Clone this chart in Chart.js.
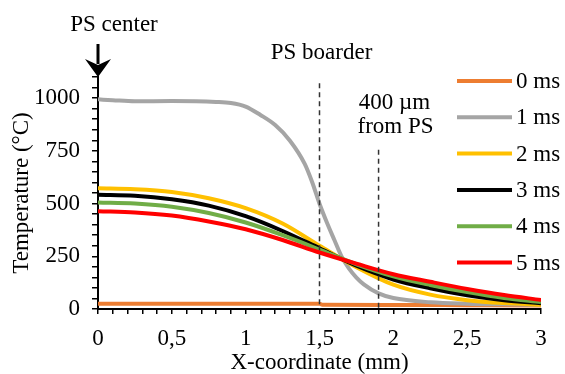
<!DOCTYPE html>
<html>
<head>
<meta charset="utf-8">
<script src="https://cdn.jsdelivr.net/npm/chart.js@4"></script>
<style>
    html, body { margin: 0; padding: 0; background: #fff; }
    #wrap { width: 565px; height: 374px; }
</style>
</head>
<body>
<div id="wrap"><canvas id="tempChart" width="565" height="374"></canvas></div>
<script>
// Temperature profiles along X
const seriesLabels = ['0 ms', '1 ms', '2 ms', '3 ms', '4 ms', '5 ms'];

const smoothX = [0, 0.25, 0.5, 0.75, 1, 1.25, 1.5, 1.75, 2, 2.25, 2.5, 2.75, 3];
const temp2ms = [572, 568, 555, 525, 478, 405, 300, 198, 115, 68, 42, 28, 20];
const temp3ms = [542, 537, 520, 490, 440, 370, 288, 205, 140, 98, 65, 42, 27];
const temp4ms = [505, 500, 485, 455, 410, 350, 282, 212, 155, 114, 80, 52, 33];
const temp5ms = [464, 458, 443, 415, 378, 327, 268, 215, 165, 129, 95, 66, 43];

const grayX = [0, 0.1, 0.25, 0.5, 0.8, 0.9, 1, 1.1, 1.2, 1.3, 1.4, 1.45, 1.5, 1.55, 1.6, 1.65, 1.7, 1.75, 1.8, 1.9, 2, 2.25, 2.5, 2.75, 3];
const temp1ms = [994, 990, 985, 986, 982, 977, 960, 920, 872, 798, 688, 602, 499, 410, 328, 248, 191, 149, 117, 74, 52, 32, 25, 22, 20];

const orangeX = [0, 0.5, 1, 1.5, 1.52, 2, 2.5, 3];
const temp0ms = [25, 25, 25, 25, 20, 19, 18, 17];

const seriesColors = ['#ED7D31', '#A5A5A5', '#FFC000', '#000000', '#70AD47', '#FF0000'];

// Marker positions on the x axis (mm)
const borderX = 1.5;
const offsetX = 1.9;

const FONT = 'Liberation Serif';

function toPoints(xs, ys) {
    return xs.map((x, i) => ({ x: x, y: ys[i] }));
}

const seriesData = [
    toPoints(orangeX, temp0ms),
    toPoints(grayX, temp1ms),
    toPoints(smoothX, temp2ms),
    toPoints(smoothX, temp3ms),
    toPoints(smoothX, temp4ms),
    toPoints(smoothX, temp5ms),
];

// legend + annotations drawn on the canvas
const overlayPlugin = {
    id: 'overlay',
    afterDatasetsDraw(chart) {
        const ctx = chart.ctx;
        const xs = chart.scales.x;
        const ys = chart.scales.y;
        const area = chart.chartArea;

        ctx.save();
        // dashed markers
        ctx.strokeStyle = '#333';
        ctx.lineWidth = 1.5;
        ctx.setLineDash([5, 4]);
        ctx.beginPath();
        ctx.moveTo(xs.getPixelForValue(borderX), ys.getPixelForValue(1070));
        ctx.lineTo(xs.getPixelForValue(borderX), area.bottom);
        ctx.moveTo(xs.getPixelForValue(offsetX), ys.getPixelForValue(755));
        ctx.lineTo(xs.getPixelForValue(offsetX), area.bottom);
        ctx.stroke();
        ctx.setLineDash([]);

        // arrow at the PS center
        const ax = xs.getPixelForValue(0);
        ctx.strokeStyle = '#000';
        ctx.fillStyle = '#000';
        ctx.lineWidth = 3;
        ctx.beginPath();
        ctx.moveTo(ax, 44);
        ctx.lineTo(ax, 64);
        ctx.stroke();
        ctx.beginPath();
        ctx.moveTo(ax - 13, 59);
        ctx.lineTo(ax, area.top);
        ctx.lineTo(ax + 13, 59);
        ctx.lineTo(ax, 65);
        ctx.closePath();
        ctx.fill();

        // labels
        ctx.font = '23px "' + FONT + '"';
        ctx.textAlign = 'center';
        ctx.textBaseline = 'middle';
        ctx.fillText('PS center', ax + 16, 25);
        ctx.fillText('PS boarder', xs.getPixelForValue(borderX) + 2, 53);
        ctx.fillText('400 µm', xs.getPixelForValue(offsetX) + 16, 103);
        ctx.fillText('from PS', xs.getPixelForValue(offsetX) + 17, 127);

        // legend
        ctx.textAlign = 'left';
        chart.data.datasets.forEach((ds, i) => {
            const y = 81 + i * 36.3;
            ctx.strokeStyle = ds.borderColor;
            ctx.lineWidth = 4;
            ctx.beginPath();
            ctx.moveTo(457, y);
            ctx.lineTo(512, y);
            ctx.stroke();
            ctx.fillStyle = '#000';
            ctx.fillText(ds.label, 516, y + 1);
        });
        ctx.restore();
    },
};

const ctx = document.getElementById('tempChart').getContext('2d');
Chart.defaults.font.family = FONT;
Chart.defaults.font.size = 23;
Chart.defaults.color = '#000';

const chart = new Chart(ctx, {
    type: 'line',
    data: {
        datasets: seriesLabels.map((label, i) => ({
            label: label,
            data: seriesData[i],
            borderColor: seriesColors[i],
            backgroundColor: seriesColors[i],
            borderWidth: 4,
            pointRadius: 0,
            cubicInterpolationMode: 'monotone',
            order: seriesLabels.length - i,
        })),
    },
    options: {
        responsive: false,
        animation: false,
        layout: {
            padding: { left: 0, right: 24, top: 77, bottom: 0 },
        },
        plugins: {
            legend: { display: false },
            tooltip: { enabled: false },
        },
        scales: {
            x: {
                type: 'linear',
                min: 0,
                max: 3,
                border: { color: '#000', width: 2 },
                grid: {
                    drawOnChartArea: false,
                    drawTicks: true,
                    tickLength: 5,
                    color: '#000',
                    lineWidth: 1.5,
                },
                ticks: {
                    stepSize: 0.1,
                    autoSkip: false,
                    maxRotation: 0,
                    padding: 11,
                    callback: function (value) {
                        const tenths = Math.round(value * 10);
                        if (tenths % 5 !== 0) return '';
                        return String(tenths / 10).replace('.', ',');
                    },
                },
                title: {
                    display: true,
                    text: 'X-coordinate (mm)',
                    font: { size: 23, lineHeight: 1 },
                    padding: { top: 0, bottom: 0 },
                },
                afterFit: function (scale) {
                    scale.height = 65;
                },
            },
            y: {
                min: 0,
                max: 1100,
                border: { color: '#000', width: 2 },
                grid: {
                    drawOnChartArea: false,
                    drawTicks: true,
                    tickLength: 6,
                    color: '#000',
                    lineWidth: 1.5,
                },
                ticks: {
                    stepSize: 50,
                    autoSkip: false,
                    padding: 12,
                    callback: function (value) {
                        return value % 250 === 0 ? String(value) : '';
                    },
                },
                title: {
                    display: true,
                    text: 'Temperature (°C)',
                    font: { size: 23, lineHeight: 1 },
                    padding: { top: 10, bottom: 0 },
                },
                afterFit: function (scale) {
                    scale.width = 98;
                },
            },
        },
    },
    plugins: [overlayPlugin],
});
</script>
</body>
</html>
